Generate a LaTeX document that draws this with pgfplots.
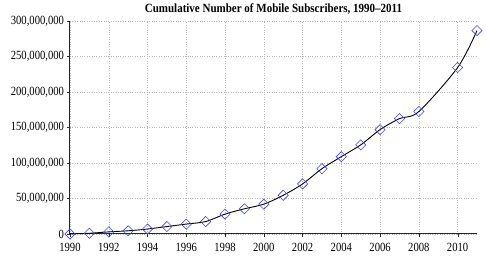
\documentclass[border=0pt]{standalone}
\usepackage{pgfplots}
\pgfplotsset{compat=1.18}
\usepackage{fontspec}
\setmainfont{Liberation Serif}
\begin{document}
\begin{tikzpicture}
\begin{axis}[
  scale only axis,
  width=407pt, height=213pt,
  xmin=1990, xmax=2011,
  ymin=0, ymax=300000000,
  axis lines=left,
  axis line style={-, black!85, line width=1pt},
  xtick={1990,1992,...,2010},
  ytick={0,50000000,100000000,150000000,200000000,250000000,300000000},
  scaled y ticks=false,
  tick label style={font=\fontsize{12.5}{14}\selectfont, xscale=0.85},
  xticklabel style={/pgf/number format/1000 sep={}, yshift=-3pt},
  yticklabel style={/pgf/number format/.cd, fixed, 1000 sep={,}},
  /pgf/number format/assume math mode=true,
  tick align=outside,
  major tick length=3pt,
  tick style={black!85},
  grid=major,
  grid style={gray!55, dotted},
  every axis title shift=0pt,
  title={Cumulative Number of Mobile Subscribers, 1990--2011},
  title style={font=\fontsize{12.5}{14}\selectfont\bfseries, xscale=0.88, at={(0.5,1)}, anchor=base, yshift=8pt},
  clip=false,
]
\addplot[black, line width=0.9pt, smooth, mark=square, mark size=3.6pt,
  mark options={draw=blue!75!white, fill=none, line width=0.6pt, solid, rotate=45}]
coordinates {
(1990,0)
(1991,1000000)
(1992,3000000)
(1993,4500000)
(1994,7000000)
(1995,10500000)
(1996,14000000)
(1997,17500000)
(1998,28000000)
(1999,35500000)
(2000,42000000)
(2001,54500000)
(2002,70500000)
(2003,92000000)
(2004,109000000)
(2005,125500000)
(2006,147000000)
(2007,162500000)
(2008,172500000)
(2010,234500000)
(2011,286500000)
};
\end{axis}
\pgfresetboundingbox
\path ([xshift=-70pt,yshift=-25pt]current axis.south west) rectangle ([xshift=9pt,yshift=21pt]current axis.north east);
\end{tikzpicture}
\end{document}
